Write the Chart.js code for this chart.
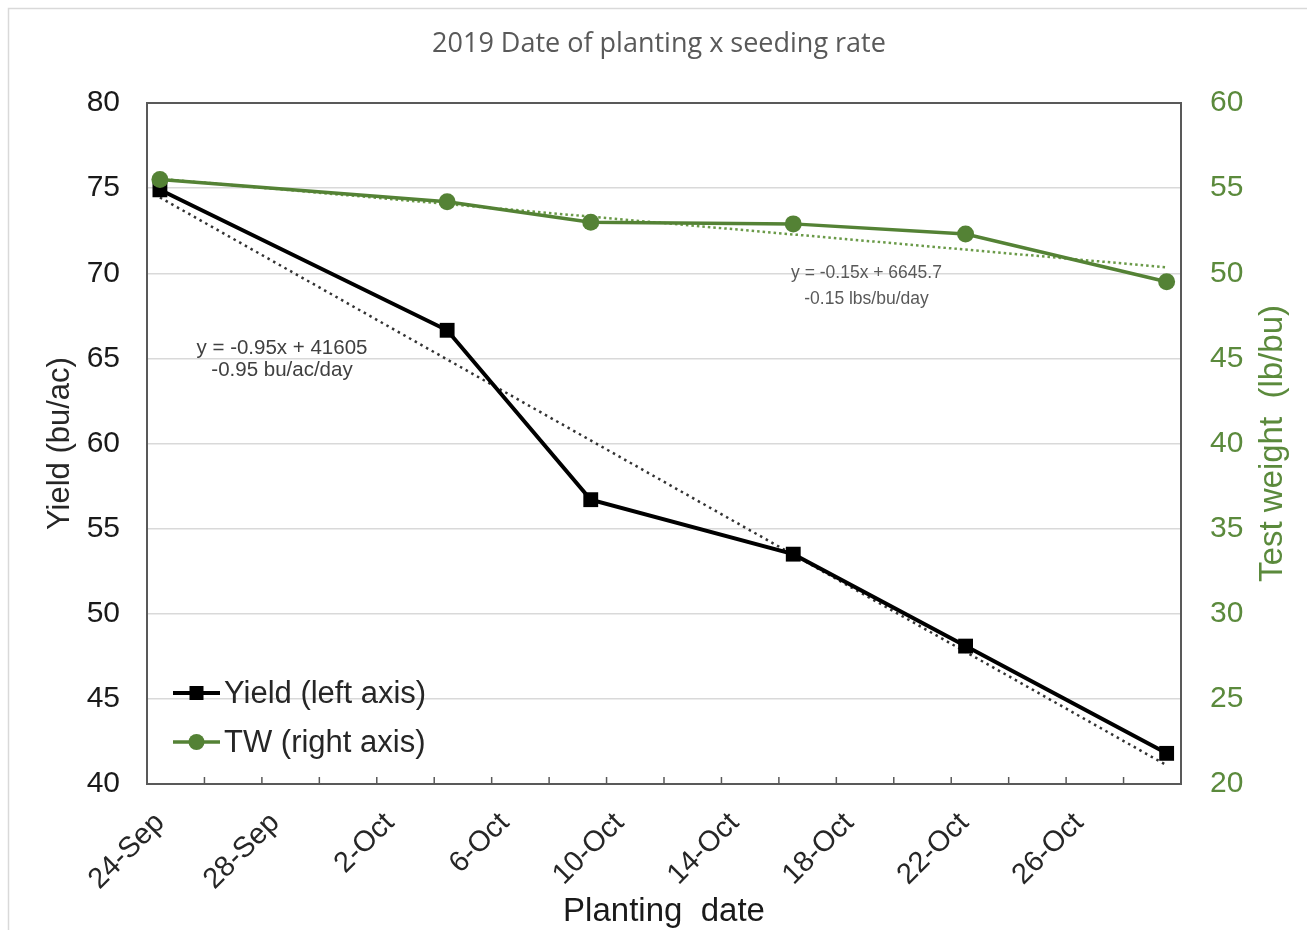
<!DOCTYPE html>
<html>
<head>
<meta charset="utf-8">
<script src="https://cdn.jsdelivr.net/npm/chart.js@4.4.1/dist/chart.umd.min.js"></script>
<style>
  html, body { margin: 0; padding: 0; background: #ffffff; }
  #wrap { width: 1307px; height: 930px; }
</style>
</head>
<body>
<div id="wrap"><canvas id="c" width="1307" height="930"></canvas></div>
<script>
// ---- data (days after 24-Sep-2019) ----
const plantingDays = [0.45, 10.45, 15.45, 22.5, 28.5, 35.5];
const yieldValues = [74.9, 66.65, 56.7, 53.5, 48.1, 41.8];
const twValues = [55.5, 54.2, 53.0, 52.9, 52.3, 49.5];
const trendDays = [0.45, 35.5];
const yieldTrendValues = [74.45, 41.1];
const twTrendValues = [55.55, 50.35];
const xTickLabels = ['24-Sep', '28-Sep', '2-Oct', '6-Oct', '10-Oct', '14-Oct', '18-Oct', '22-Oct', '26-Oct'];
const yieldTicks = [40, 45, 50, 55, 60, 65, 70, 75, 80];
const twTicks = [20, 25, 30, 35, 40, 45, 50, 55, 60];
const seriesLabels = ['Yield (left axis)', 'TW (right axis)'];
const chartTitle = '2019 Date of planting x seeding rate';
const yieldEquation = ['y = -0.95x + 41605', '-0.95 bu/ac/day'];
const twEquation = ['y = -0.15x + 6645.7', '-0.15 lbs/bu/day'];

const GREEN = '#548235';
const GREEN_TXT = '#5b8a3c';
const FONT = "'Liberation Sans', Arial, sans-serif";

const toPts = (xs, ys) => xs.map((x, i) => ({ x: x, y: ys[i] }));

const decor = {
  id: 'decor',
  beforeDraw(chart) {
    const ctx = chart.ctx;
    ctx.save();
    ctx.fillStyle = '#ffffff';
    ctx.fillRect(0, 0, chart.width, chart.height);
    ctx.strokeStyle = '#d9d9d9';
    ctx.lineWidth = 1.5;
    ctx.strokeRect(8.5, 8.5, chart.width + 20, chart.height + 20);
    // title
    ctx.fillStyle = '#595959';
    ctx.font = "27px 'Open Sans', sans-serif";
    ctx.textAlign = 'center';
    ctx.textBaseline = 'middle';
    ctx.fillText(chartTitle, 659, 44);
    ctx.restore();
  },
  afterDatasetsDraw(chart) {
    const ctx = chart.ctx;
    const a = chart.chartArea;
    const xs = chart.scales.x, ys = chart.scales.y, y1 = chart.scales.y1;
    ctx.save();
    // frame
    ctx.strokeStyle = '#595959';
    ctx.lineWidth = 2;
    ctx.strokeRect(a.left, a.top, a.right - a.left, a.bottom - a.top);
    // inward tick marks on x axis
    ctx.lineWidth = 1.5;
    xs.ticks.forEach(t => {
      if (t.value <= xs.min || t.value >= xs.max) return;
      const px = xs.getPixelForValue(t.value);
      ctx.beginPath();
      ctx.moveTo(px, a.bottom);
      ctx.lineTo(px, a.bottom - 7);
      ctx.stroke();
    });
    // equation annotations
    ctx.textAlign = 'center';
    ctx.textBaseline = 'middle';
    ctx.fillStyle = '#404040';
    ctx.font = '20.5px ' + FONT;
    let cx = xs.getPixelForValue(4.7);
    ctx.fillText(yieldEquation[0], cx, ys.getPixelForValue(65.6));
    ctx.fillText(yieldEquation[1], cx, ys.getPixelForValue(64.3));
    ctx.fillStyle = '#595959';
    ctx.font = '17.5px ' + FONT;
    cx = xs.getPixelForValue(25.05);
    ctx.fillText(twEquation[0], cx, y1.getPixelForValue(50.0));
    ctx.fillText(twEquation[1], cx, y1.getPixelForValue(48.45));
    // right axis title
    ctx.save();
    ctx.translate(1273, (a.top + a.bottom) / 2);
    ctx.rotate(-Math.PI / 2);
    ctx.fillStyle = GREEN_TXT;
    ctx.font = '33px ' + FONT;
    ctx.fillText('Test weight  (lb/bu)', 0, 0);
    ctx.restore();
    // legend
    const lx = a.left + 26, ly1 = a.bottom - 91, ly2 = a.bottom - 42;
    ctx.textAlign = 'left';
    ctx.font = '31px ' + FONT;
    ctx.lineWidth = 4;
    ctx.strokeStyle = '#000';
    ctx.beginPath(); ctx.moveTo(lx, ly1); ctx.lineTo(lx + 47, ly1); ctx.stroke();
    ctx.fillStyle = '#000';
    ctx.fillRect(lx + 23.5 - 7, ly1 - 7, 14, 14);
    ctx.fillStyle = '#262626';
    ctx.fillText(seriesLabels[0], lx + 51, ly1 + 1);
    ctx.strokeStyle = GREEN;
    ctx.lineWidth = 3.5;
    ctx.beginPath(); ctx.moveTo(lx, ly2); ctx.lineTo(lx + 47, ly2); ctx.stroke();
    ctx.fillStyle = GREEN;
    ctx.beginPath(); ctx.arc(lx + 23.5, ly2, 8, 0, Math.PI * 2); ctx.fill();
    ctx.fillStyle = '#262626';
    ctx.fillText(seriesLabels[1], lx + 51, ly2 + 1);
    ctx.restore();
  }
};

new Chart(document.getElementById('c'), {
  type: 'line',
  data: {
    datasets: [
      {
        label: seriesLabels[1], data: toPts(plantingDays, twValues), yAxisID: 'y1', order: 0,
        borderColor: GREEN, backgroundColor: GREEN, borderWidth: 3.5,
        pointStyle: 'circle', pointRadius: 8.5, pointBorderWidth: 0, tension: 0
      },
      {
        label: seriesLabels[0], data: toPts(plantingDays, yieldValues), yAxisID: 'y', order: 1,
        borderColor: '#000000', backgroundColor: '#000000', borderWidth: 4,
        pointStyle: 'rect', pointRadius: 10.5, pointBorderWidth: 0, tension: 0
      },
      {
        label: 'Yield trend', data: toPts(trendDays, yieldTrendValues), yAxisID: 'y', order: 2,
        borderColor: '#333333', borderWidth: 2.5, borderDash: [2.5, 4], pointRadius: 0
      },
      {
        label: 'TW trend', data: toPts(trendDays, twTrendValues), yAxisID: 'y1', order: 3,
        borderColor: '#6a9a48', borderWidth: 2.5, borderDash: [2.5, 3], pointRadius: 0
      }
    ]
  },
  options: {
    responsive: false,
    animation: false,
    layout: { padding: { top: 103, left: 0, right: 0, bottom: 0 } },
    plugins: { legend: { display: false }, tooltip: { enabled: false }, title: { display: false } },
    scales: {
      x: {
        type: 'linear', min: 0, max: 36,
        afterFit(s) { s.height = 146; },
        afterBuildTicks(s) { s.ticks = []; for (let v = 0; v <= 36; v += 2) s.ticks.push({ value: v }); },
        ticks: {
          autoSkip: false, maxRotation: 45, minRotation: 45, padding: 14, labelOffset: 13,
          color: '#262626', font: { family: FONT, size: 29 },
          callback: v => (v % 4 === 0 && xTickLabels[v / 4]) ? xTickLabels[v / 4] : ''
        },
        grid: { display: false },
        border: { display: false },
        title: { display: true, text: 'Planting  date', color: '#1a1a1a', font: { family: FONT, size: 33 }, padding: { top: 0, bottom: -2 } }
      },
      y: {
        position: 'left', min: 40, max: 80,
        afterFit(s) { s.width = 147; },
        afterBuildTicks(s) { s.ticks = yieldTicks.map(v => ({ value: v })); },
        ticks: { color: '#1a1a1a', padding: 27, font: { family: FONT, size: 30 } },
        grid: { color: '#d9d9d9', lineWidth: 1.5, drawTicks: false },
        border: { display: false },
        title: { display: true, text: 'Yield (bu/ac)', color: '#262626', font: { family: FONT, size: 31 }, padding: { top: 42, bottom: 0 } }
      },
      y1: {
        position: 'right', min: 20, max: 60,
        afterFit(s) { s.width = 126; },
        afterBuildTicks(s) { s.ticks = twTicks.map(v => ({ value: v })); },
        ticks: { color: GREEN_TXT, padding: 29, font: { family: FONT, size: 30 } },
        grid: { drawOnChartArea: false, drawTicks: false },
        border: { display: false }
      }
    }
  },
  plugins: [decor]
});
</script>
</body>
</html>
